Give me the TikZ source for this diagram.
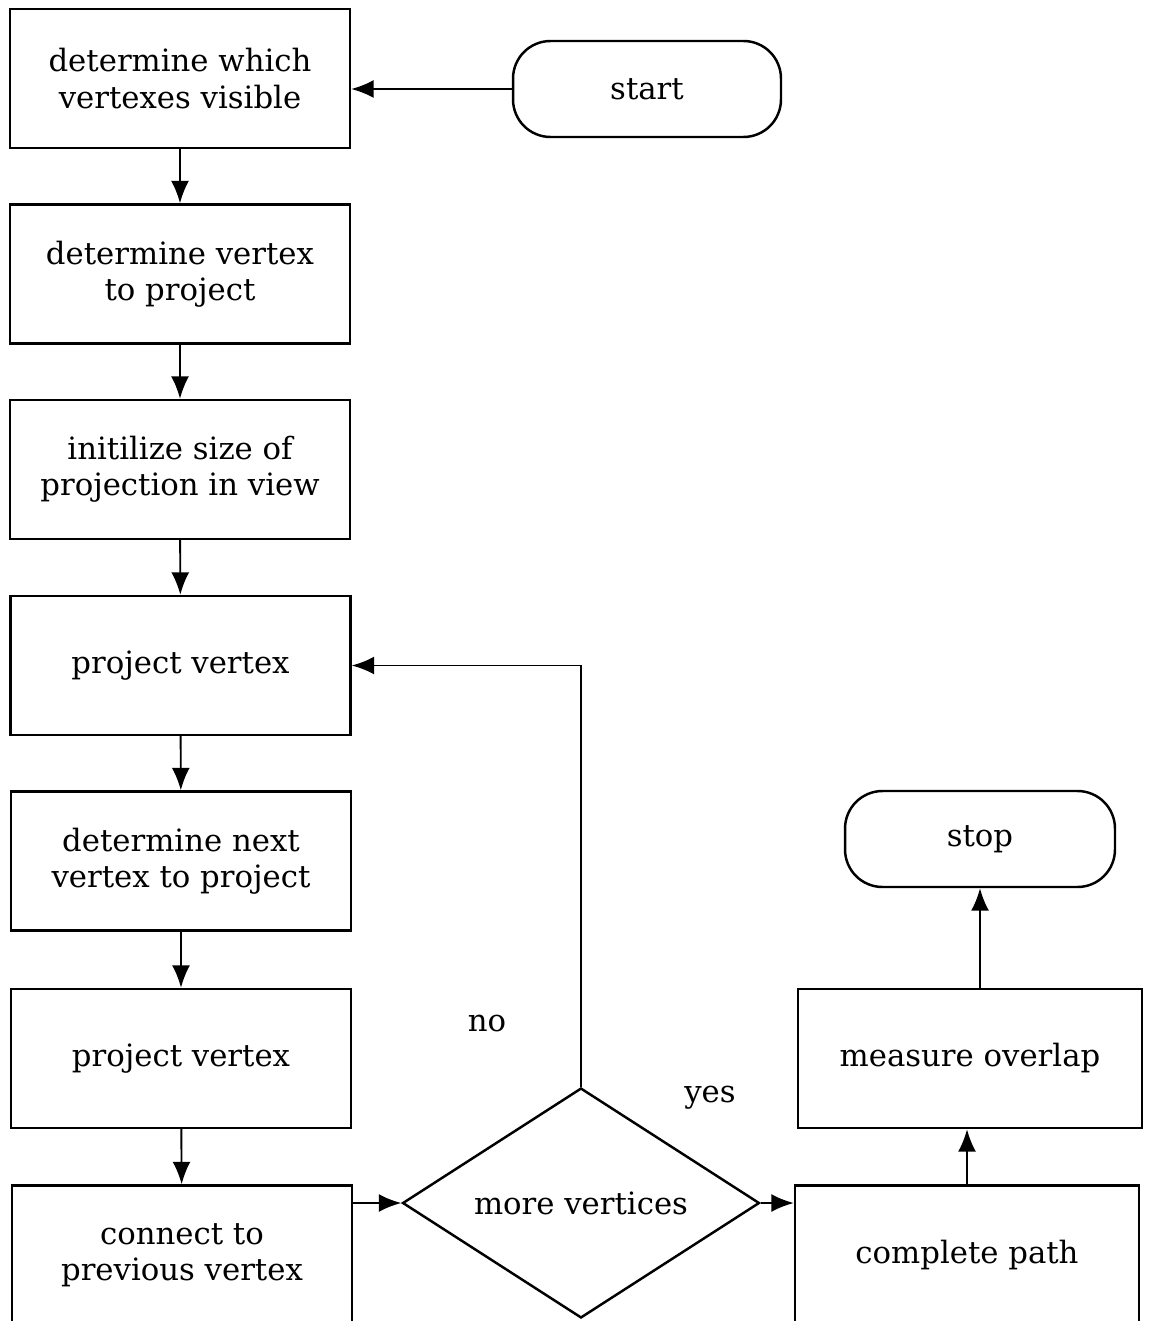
\documentclass[tikz,border=0pt]{standalone}
\usepackage{fontspec}
\setmainfont{DejaVu Serif}
\usetikzlibrary{arrows.meta}
\usetikzlibrary{shapes.geometric}

\tikzset{
  stepbox/.style={draw, line width=1.4pt, minimum width=6.8cm, minimum height=2.78cm,
    align=center, inner sep=0pt},
  termbox/.style={draw, line width=1.4pt, rounded corners=0.75cm, minimum width=5.36cm,
    minimum height=1.92cm, align=center, inner sep=0pt},
  decide/.style={draw, diamond, line width=1.4pt, aspect=1.55, minimum width=7.14cm,
    minimum height=4.6cm, inner sep=0pt},
  flow/.style={line width=1.1pt, -{Latex[length=0.45cm, width=0.36cm]}}
}

\begin{document}
\begin{tikzpicture}[x=0.02cm, y=-0.02cm, font=\fontsize{17.5}{20.6}\selectfont]
  \useasboundingbox (0,0) rectangle (1149,1321);
  \clip (0,0) rectangle (1149,1321);

  % left column
  \node[stepbox] (visible) at (180,78.5) {determine which\\vertexes visible};
  \node[stepbox] (first) at (180,274) {determine vertex\\to project};
  \node[stepbox] (init) at (180,469.5) {initilize size of\\projection in view};
  \node[stepbox] (proj) at (180.5,665.5) {project vertex};
  \node[stepbox] (next) at (181,861) {determine next\\vertex to project};
  \node[stepbox] (projnext) at (181,1058.5) {project vertex};
  \node[stepbox] (connect) at (182,1255) {connect to\\previous vertex};

  % right side
  \node[termbox] (start) at (647,89) {start};
  \node[decide] (more) at (581,1203) {more vertices};
  \node[stepbox, minimum width=6.88cm] (path) at (967,1255) {complete path};
  \node[stepbox, minimum width=6.88cm] (overlap) at (970,1058.5) {measure overlap};
  \node[termbox, minimum width=5.4cm] (stop) at (980,839) {stop};

  \node (no) at (487,1024) {no};
  \node (yes) at (710,1098) {yes};

  % connectors
  \draw[flow] (start.west) -- (start.west -| visible.east);
  \draw[flow] (visible) -- (first);
  \draw[flow] (first) -- (init);
  \draw[flow] (init) -- (proj);
  \draw[flow] (proj) -- (next);
  \draw[flow] (next) -- (projnext);
  \draw[flow] (projnext) -- (connect);
  \draw[flow] (more.west -| connect.east) -- (more.west);
  \draw[flow] (more.north) |- (proj.east);
  \draw[flow] (more.east) -- (more.east -| path.west);
  \draw[flow] (path.north) -- (path.north |- overlap.south);
  \draw[flow] (stop.south |- overlap.north) -- (stop.south);
\end{tikzpicture}
\end{document}
